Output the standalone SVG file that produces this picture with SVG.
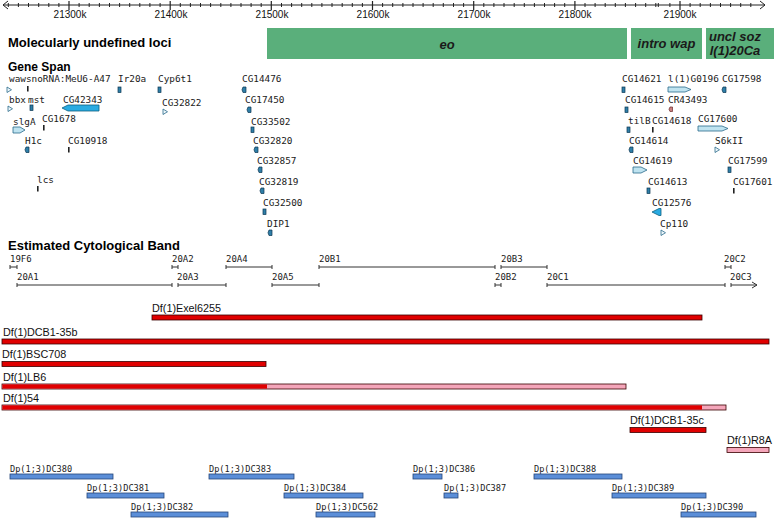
<svg xmlns="http://www.w3.org/2000/svg" xmlns:xlink="http://www.w3.org/1999/xlink" width="774" height="519" viewBox="0 0 774 519">
<style>
.h{font-family:"Liberation Sans",Arial,sans-serif;font-weight:bold;font-size:13px;fill:#000}
.ax{font-family:"Liberation Sans",Arial,sans-serif;font-size:10px;fill:#111}
.lz{font-family:"Liberation Sans",Arial,sans-serif;font-weight:bold;font-style:italic;font-size:13px;fill:#1a1a1a;text-anchor:middle}
.g{font-family:"DejaVu Sans Mono",monospace;font-size:9.4px;fill:#1a1a1a}
.c{font-family:"DejaVu Sans Mono",monospace;font-size:9px;fill:#1a1a1a}
.dp{font-family:"DejaVu Sans Mono",monospace;font-size:8.6px;fill:#1a1a1a}
.df{font-family:"Liberation Sans",Arial,sans-serif;font-size:10.8px;fill:#111}
.box{fill:#5aaf7b}
.dk{fill:#2f7fa8;stroke:#0b3550;stroke-width:0.7}
.lt{fill:#bfe3f0;stroke:#2a6a8a;stroke-width:0.8}
.ol{fill:#eef7fb;stroke:#2a6a8a;stroke-width:0.8}
.cy{fill:#29abe2;stroke:#0e5f80;stroke-width:0.8}
.rd{fill:#c98080;stroke:#6a2a2a;stroke-width:0.7}
.bk{fill:#222}
.cb{stroke:#333;stroke-width:1;fill:none}
.red{fill:#e00000;stroke:#3a0000;stroke-width:0.8}
.pink{fill:#f4a6ba;stroke:#3a0000;stroke-width:0.8}
.blue{fill:#5b8ed8;stroke:#27477a;stroke-width:0.8}
</style>
<defs>
<path id="sl" d="M1,0 H4 V5.5 H1 L0,2.75 Z" class="dk"/>
<path id="rt" d="M0,0 L4.5,2.75 L0,5.5 Z" class="ol"/>
<rect id="rc" x="0" y="0" width="3" height="5.5" class="dk"/>
<rect id="br" x="0" y="0" width="1.6" height="5.5" class="bk"/>
<marker id="arr" markerWidth="8" markerHeight="8" refX="6" refY="4" orient="auto" markerUnits="userSpaceOnUse">
<path d="M1,1 L6,4 L1,7" fill="none" stroke="#333" stroke-width="1"/>
</marker>
</defs>
<rect width="774" height="519" fill="#fff"/>

<g id="axis">
<path d="M3,5 H765 M8,1 L3,5 L8,9 M760,1 L765,5 L760,9" fill="none" stroke="#222" stroke-width="1"/>
<path stroke="#222" stroke-width="1" d="M8.3,3v4M18.4,3v4M28.5,3v4M38.7,3v4M48.8,3v4M58.9,3v4M79.1,3v4M89.2,3v4M99.4,3v4M109.5,3v4M119.6,3v4M129.7,3v4M139.8,3v4M149.9,3v4M160.1,3v4M180.3,3v4M190.4,3v4M200.5,3v4M210.6,3v4M220.8,3v4M230.9,3v4M241,3v4M251.1,3v4M261.2,3v4M281.5,3v4M291.6,3v4M301.7,3v4M311.8,3v4M321.9,3v4M332,3v4M342.2,3v4M352.3,3v4M362.4,3v4M382.6,3v4M392.7,3v4M402.9,3v4M413,3v4M423.1,3v4M433.2,3v4M443.3,3v4M453.5,3v4M463.6,3v4M483.8,3v4M493.9,3v4M504,3v4M514.2,3v4M524.3,3v4M534.4,3v4M544.5,3v4M554.6,3v4M564.7,3v4M585,3v4M595.1,3v4M605.2,3v4M615.3,3v4M625.4,3v4M635.6,3v4M645.7,3v4M655.8,3v4M658.3,3v4M669.9,3v4M690.1,3v4M700.2,3v4M710.4,3v4M720.5,3v4M730.6,3v4M740.7,3v4M750.8,3v4"/>
<path stroke="#222" stroke-width="1.2" d="M69,1v9M170.2,1v9M271.3,1v9M372.5,1v9M473.7,1v9M574.9,1v9M680,1v9"/>
<g class="ax" text-anchor="middle">
<text x="70" y="18">21300k</text>
<text x="171" y="18">21400k</text>
<text x="272" y="18">21500k</text>
<text x="373" y="18">21600k</text>
<text x="474" y="18">21700k</text>
<text x="575" y="18">21800k</text>
<text x="680" y="18">21900k</text>
</g>
</g>

<g id="sections">
<text class="h" x="8" y="47">Molecularly undefined loci</text>
<text class="h" x="8" y="71" style="font-size:12px">Gene Span</text>
<text class="h" x="8" y="250">Estimated Cytological Band</text>
</g>

<g id="loci">
<g id="locus-eo"><rect class="box" x="267" y="28" width="360" height="31"/><text class="lz" x="447" y="49">eo</text></g>
<g id="locus-intro"><rect class="box" x="631" y="28" width="71" height="31"/><text class="lz" x="666.5" y="48">intro wap</text></g>
<g id="locus-uncl"><rect class="box" x="706" y="28" width="68" height="31"/><text class="lz" x="735" y="41">uncl soz</text><text class="lz" x="735" y="55">l(1)20Ca</text></g>
</g>

<g id="genes">
<g id="g-wawsnoRNA"><text class="g" x="9" y="82">wawsnoRNA:MeU6-A47</text><use href="#rt" x="7" y="87"/><use href="#br" x="27" y="86"/></g>
<g id="g-Ir20a"><text class="g" x="118" y="82">Ir20a</text><use href="#rc" x="118" y="87"/></g>
<g id="g-Cyp6t1"><text class="g" x="158" y="82">Cyp6t1</text><use href="#rc" x="158" y="87"/></g>
<g id="g-CG14476"><text class="g" x="242" y="82">CG14476</text><use href="#sl" x="242" y="87"/></g>
<g id="g-CG14621"><text class="g" x="622" y="82">CG14621</text><use href="#rc" x="622" y="87"/></g>
<g id="g-l1G0196"><text class="g" x="668" y="82">l(1)G0196</text><path class="lt" d="M668,87 H685 L691,89.5 L685,92 H668 Z"/></g>
<g id="g-CG17598"><text class="g" x="722" y="82">CG17598</text><use href="#sl" x="722" y="87"/></g>

<g id="g-bbx"><text class="g" x="9" y="103">bbx</text><use href="#rt" x="8" y="106"/></g>
<g id="g-mst"><text class="g" x="28" y="103">mst</text><use href="#rc" x="30" y="105"/></g>
<g id="g-CG42343"><text class="g" x="63" y="103">CG42343</text><path class="cy" d="M62,108 L68,105 H99 V111 H68 Z"/></g>
<g id="g-CG32822"><text class="g" x="162" y="106">CG32822</text><use href="#rt" x="163" y="109"/></g>
<g id="g-CG17450"><text class="g" x="245" y="103">CG17450</text><use href="#sl" x="247" y="107"/></g>
<g id="g-CG14615"><text class="g" x="625" y="103">CG14615</text><use href="#rc" x="625" y="107"/></g>
<g id="g-CR43493"><text class="g" x="668" y="103">CR43493</text><path class="rd" d="M670,107 H672.5 V111.5 H670 L669,109.25 Z"/></g>

<g id="g-slgA"><text class="g" x="13" y="125">slgA</text><path class="lt" d="M13,127 H20 L25,130 L20,133 H13 Z"/></g>
<g id="g-CG1678"><text class="g" x="42" y="122">CG1678</text><use href="#br" x="43" y="125"/></g>
<g id="g-CG33502"><text class="g" x="251" y="125">CG33502</text><use href="#rc" x="251" y="127"/></g>
<g id="g-tilB"><text class="g" x="628" y="124">tilB</text><use href="#rc" x="627" y="127"/></g>
<g id="g-CG14618"><text class="g" x="652" y="124">CG14618</text><use href="#br" x="652" y="127"/></g>
<g id="g-CG17600"><text class="g" x="698" y="122">CG17600</text><path class="lt" d="M698,126 H722 L728,128.5 L722,131 H698 Z"/></g>

<g id="g-H1c"><text class="g" x="25" y="144">H1c</text><use href="#sl" x="25" y="147"/></g>
<g id="g-CG10918"><text class="g" x="68" y="144">CG10918</text><use href="#br" x="68" y="147"/></g>
<g id="g-CG32820"><text class="g" x="253" y="144">CG32820</text><use href="#sl" x="254" y="147"/></g>
<g id="g-CG14614"><text class="g" x="629" y="144">CG14614</text><use href="#sl" x="629" y="147"/></g>
<g id="g-S6kII"><text class="g" x="715" y="144">S6kII</text><use href="#rt" x="715" y="147"/></g>

<g id="g-CG32857"><text class="g" x="257" y="164">CG32857</text><use href="#sl" x="258" y="167"/></g>
<g id="g-CG14619"><text class="g" x="633" y="164">CG14619</text><path class="lt" d="M633,167 H641 L647,170 L641,173 H633 Z"/></g>
<g id="g-CG17599"><text class="g" x="728" y="164">CG17599</text><use href="#rc" x="728" y="167"/></g>

<g id="g-lcs"><text class="g" x="37" y="183">lcs</text><use href="#br" x="37" y="186"/></g>
<g id="g-CG32819"><text class="g" x="259" y="185">CG32819</text><use href="#sl" x="260" y="188"/></g>
<g id="g-CG14613"><text class="g" x="648" y="185">CG14613</text><use href="#rc" x="647" y="188"/></g>
<g id="g-CG17601"><text class="g" x="733" y="185">CG17601</text><use href="#br" x="733" y="188"/></g>

<g id="g-CG32500"><text class="g" x="263" y="206">CG32500</text><use href="#rc" x="263" y="209"/></g>
<g id="g-CG12576"><text class="g" x="652" y="206">CG12576</text><path class="cy" d="M652,212 L659,208.5 H661 V215.5 H659 Z"/></g>

<g id="g-DIP1"><text class="g" x="267" y="227">DIP1</text><use href="#sl" x="268" y="230"/></g>
<g id="g-Cp110"><text class="g" x="660" y="227">Cp110</text><use href="#rt" x="661" y="230"/></g>
</g>

<g id="bands">
<g id="b-19F6"><text class="c" x="10" y="262">19F6</text><path class="cb" d="M10,267 H17 M10,265 v4 M17,265 v4"/></g>
<g id="b-20A2"><text class="c" x="172" y="262">20A2</text><path class="cb" d="M172,267 H178 M172,265 v4 M178,265 v4"/></g>
<g id="b-20A4"><text class="c" x="226" y="262">20A4</text><path class="cb" d="M226,267 H272 M226,265 v4 M272,265 v4"/></g>
<g id="b-20B1"><text class="c" x="319" y="262">20B1</text><path class="cb" d="M319,267 H495 M319,265 v4 M495,265 v4"/></g>
<g id="b-20B3"><text class="c" x="501" y="262">20B3</text><path class="cb" d="M501,267 H547 M501,265 v4 M547,265 v4"/></g>
<g id="b-20C2"><text class="c" x="724" y="262">20C2</text><path class="cb" d="M725,267 H731 M725,265 v4 M731,265 v4"/></g>
<g id="b-20A1"><text class="c" x="17" y="280">20A1</text><path class="cb" d="M17,285 H172 M17,283 v4 M172,283 v4"/></g>
<g id="b-20A3"><text class="c" x="177" y="280">20A3</text><path class="cb" d="M178,285 H226 M178,283 v4 M226,283 v4"/></g>
<g id="b-20A5"><text class="c" x="272" y="280">20A5</text><path class="cb" d="M272,285 H319 M272,283 v4 M319,283 v4"/></g>
<g id="b-20B2"><text class="c" x="495" y="280">20B2</text><path class="cb" d="M495,285 H501 M495,283 v4 M501,283 v4"/></g>
<g id="b-20C1"><text class="c" x="547" y="280">20C1</text><path class="cb" d="M547,285 H725 M547,283 v4 M725,283 v4"/></g>
<g id="b-20C3"><text class="c" x="730" y="280">20C3</text><path class="cb" d="M731,283 v4"/><path class="cb" d="M731,285 H757" marker-end="url(#arr)"/></g>
</g>

<g id="deficiencies">
<g id="df-Exel6255"><text class="df" x="152" y="312">Df(1)Exel6255</text><rect class="red" x="152" y="315" width="550" height="5"/></g>
<g id="df-DCB1-35b"><text class="df" x="3" y="335.5">Df(1)DCB1-35b</text><rect class="red" x="2" y="339" width="767" height="5"/></g>
<g id="df-BSC708"><text class="df" x="2" y="358">Df(1)BSC708</text><rect class="red" x="2" y="361.5" width="264" height="5"/></g>
<g id="df-LB6"><text class="df" x="3" y="380.5">Df(1)LB6</text><rect class="pink" x="2" y="384" width="624" height="5"/><rect x="2.4" y="384.4" width="264.6" height="4.2" fill="#e00000"/></g>
<g id="df-54"><text class="df" x="3" y="401.5">Df(1)54</text><rect class="pink" x="2" y="405" width="724" height="5"/><rect x="2.4" y="405.4" width="699.6" height="4.2" fill="#e00000"/></g>
<g id="df-DCB1-35c"><text class="df" x="630" y="424">Df(1)DCB1-35c</text><rect class="red" x="630" y="427.5" width="76" height="5"/></g>
<g id="df-R8A"><text class="df" x="727" y="444">Df(1)R8A</text><rect class="pink" x="727" y="447.5" width="42" height="5"/></g>
</g>

<g id="duplications">
<g id="dp-DC380"><text class="dp" x="10" y="471.5">Dp(1;3)DC380</text><rect class="blue" x="10" y="474" width="103" height="5"/></g>
<g id="dp-DC381"><text class="dp" x="87" y="490.5">Dp(1;3)DC381</text><rect class="blue" x="87" y="493" width="77" height="5"/></g>
<g id="dp-DC382"><text class="dp" x="131" y="509.5">Dp(1;3)DC382</text><rect class="blue" x="131" y="512" width="97" height="5"/></g>
<g id="dp-DC383"><text class="dp" x="209" y="471.5">Dp(1;3)DC383</text><rect class="blue" x="209" y="474" width="85" height="5"/></g>
<g id="dp-DC384"><text class="dp" x="284" y="490.5">Dp(1;3)DC384</text><rect class="blue" x="284" y="493" width="79" height="5"/></g>
<g id="dp-DC562"><text class="dp" x="316" y="509.5">Dp(1;3)DC562</text><rect class="blue" x="316" y="512" width="59" height="5"/></g>
<g id="dp-DC386"><text class="dp" x="413" y="471.5">Dp(1;3)DC386</text><rect class="blue" x="413" y="474" width="29" height="5"/></g>
<g id="dp-DC387"><text class="dp" x="444" y="490.5">Dp(1;3)DC387</text><rect class="blue" x="444" y="493" width="14" height="5"/></g>
<g id="dp-DC388"><text class="dp" x="534" y="471.5">Dp(1;3)DC388</text><rect class="blue" x="534" y="474" width="88" height="5"/></g>
<g id="dp-DC389"><text class="dp" x="612" y="490.5">Dp(1;3)DC389</text><rect class="blue" x="612" y="493" width="94" height="5"/></g>
<g id="dp-DC390"><text class="dp" x="681" y="509.5">Dp(1;3)DC390</text><rect class="blue" x="681" y="512" width="75" height="5"/></g>
</g>
</svg>
